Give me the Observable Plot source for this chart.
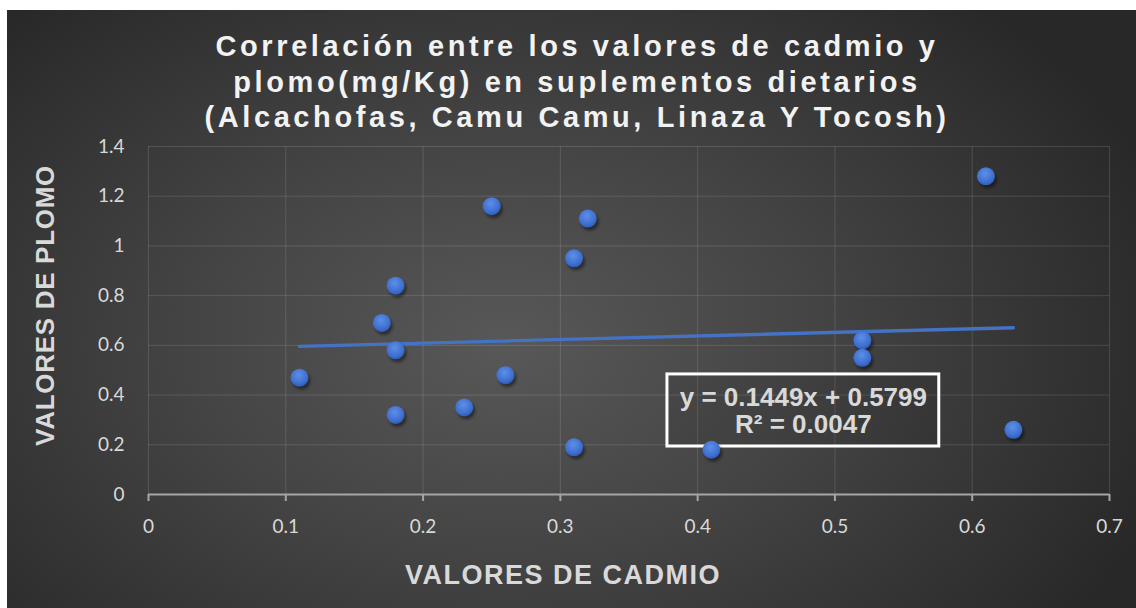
<!DOCTYPE html>
<html><head><meta charset="utf-8">
<script src="https://cdn.jsdelivr.net/npm/d3@7"></script>
<script src="https://cdn.jsdelivr.net/npm/@observablehq/plot@0.6"></script>
<style>
html,body{margin:0;padding:0;background:#fff;width:1136px;height:608px;overflow:hidden;}
#bg{position:absolute;left:7px;top:10px;width:1129px;height:598px;
background:radial-gradient(ellipse 62% 78% at 44% 56%, #585858 0%, #444444 45%, #303030 85%, #282828 100%);}
#chart{position:absolute;left:0;top:0;}
</style></head><body><div id="bg"></div><div id="chart"></div>
<script>
// Data
const cadmio = [0.11, 0.17, 0.18, 0.18, 0.18, 0.23, 0.25, 0.26, 0.31, 0.31, 0.32, 0.41, 0.52, 0.52, 0.61, 0.63];
const plomo  = [0.47, 0.69, 0.84, 0.58, 0.32, 0.35, 1.16, 0.48, 0.95, 0.19, 1.11, 0.18, 0.62, 0.55, 1.28, 0.26];
const xTicks = [0, 0.1, 0.2, 0.3, 0.4, 0.5, 0.6, 0.7];
const yTicks = [0, 0.2, 0.4, 0.6, 0.8, 1, 1.2, 1.4];
const trendX = [0.11, 0.63];
const trendY = [0.596, 0.671];
const titleLines = ["Correlación entre los valores de cadmio y", "plomo(mg/Kg) en suplementos dietarios", "(Alcachofas, Camu Camu, Linaza Y Tocosh)"];
const xTitle = "VALORES DE CADMIO";
const yTitle = "VALORES DE PLOMO";
const eqLines = ["y = 0.1449x + 0.5799", "R² = 0.0047"];
const eqBox = [{x1: 0.378, x2: 0.576, y1: 0.193, y2: 0.483, x: 0.477, y: 0.338}];

const points = cadmio.map((c, i) => ({x: c, y: plomo[i]}));
const trend = trendX.map((t, i) => ({x: t, y: trendY[i]}));
const bold = "Liberation Sans, Arial, sans-serif";

const plot = Plot.plot({
  width: 1136, height: 608,
  marginLeft: 148, marginRight: 27, marginTop: 146, marginBottom: 114,
  style: {background: "transparent", fontFamily: "Lato, sans-serif", overflow: "visible"},
  x: {domain: [0, 0.7]},
  y: {domain: [0, 1.4]},
  marks: [
    Plot.gridX(xTicks, {stroke: "#ffffff", strokeOpacity: 0.13, strokeWidth: 1}),
    Plot.gridY(yTicks, {stroke: "#ffffff", strokeOpacity: 0.13, strokeWidth: 1}),
    Plot.ruleY([0], {stroke: "#a6a6a6", strokeWidth: 2}),
    Plot.axisX(xTicks, {tickSize: 7, tickPadding: 18, stroke: "#a6a6a6", strokeWidth: 2, fill: "#d9d9d9", fontSize: 19, tickFormat: d => `${d}`, label: null}),
    Plot.axisY(yTicks, {tickSize: 0, tickPadding: 24, fill: "#d9d9d9", fontSize: 19, tickFormat: d => `${d}`, label: null}),
    Plot.line(trend, {x: "x", y: "y", stroke: "#4472c4", strokeWidth: 3.4}),
    Plot.rect(eqBox, {x1: "x1", x2: "x2", y1: "y1", y2: "y2", stroke: "#ffffff", strokeWidth: 3, fill: "#000000", fillOpacity: 0.07}),
    Plot.text(eqBox, {x: "x", y: "y", text: () => eqLines.join("\n"), fill: "#d9d9d9", fontSize: 26, fontWeight: "bold", fontFamily: bold, lineHeight: 1.04, lineAnchor: "middle"}),
    Plot.dot(points, {x: "x", y: "y", r: 9, fill: "#000000", fillOpacity: 0.45, dx: 2, dy: 3}),
    Plot.dot(points, {x: "x", y: "y", r: 9, fill: "url(#dotGrad)"}),
    Plot.text([titleLines.join("\n")], {frameAnchor: "top", dx: -52, dy: -66, text: d => d, fill: "#f2f2f2", fontSize: 29, fontWeight: "bold", fontFamily: bold, lineHeight: 1.22, lineAnchor: "middle", textAnchor: "middle"}),
    Plot.text([xTitle], {frameAnchor: "bottom", dx: -66, dy: 81, text: d => d, fill: "#d9d9d9", fontSize: 27, fontWeight: "bold", fontFamily: bold, lineAnchor: "middle", textAnchor: "middle"}),
    Plot.text([yTitle], {frameAnchor: "left", dx: -103, dy: -15, rotate: -90, text: d => d, fill: "#d9d9d9", fontSize: 26, fontWeight: "bold", fontFamily: bold, lineAnchor: "middle", textAnchor: "middle"})
  ]
});

const svg = d3.select(plot);
const defs = svg.insert("defs", ":first-child");
const g = defs.append("radialGradient").attr("id", "dotGrad").attr("cx", "45%").attr("cy", "35%").attr("r", "65%");
g.append("stop").attr("offset", "0%").attr("stop-color", "#5d8fe8");
g.append("stop").attr("offset", "70%").attr("stop-color", "#4070d0");
g.append("stop").attr("offset", "100%").attr("stop-color", "#2f5cb8");
const f = defs.append("filter").attr("id", "blur").attr("x", "-50%").attr("y", "-50%").attr("width", "200%").attr("height", "200%");
f.append("feGaussianBlur").attr("stdDeviation", 1.8);
svg.selectAll("g").filter(function() { return this.getAttribute("fill") === "#000000" && this.querySelector("circle"); }).attr("filter", "url(#blur)");
function spaceText(str, sp) {
  svg.selectAll("text").filter(function() { return this.textContent.includes(str); }).style("letter-spacing", sp);
}
spaceText("Correlación", "3.6px");
spaceText(xTitle, "1.5px");
spaceText(yTitle, "0.7px");
document.getElementById("chart").appendChild(plot);
</script>
</body></html>
